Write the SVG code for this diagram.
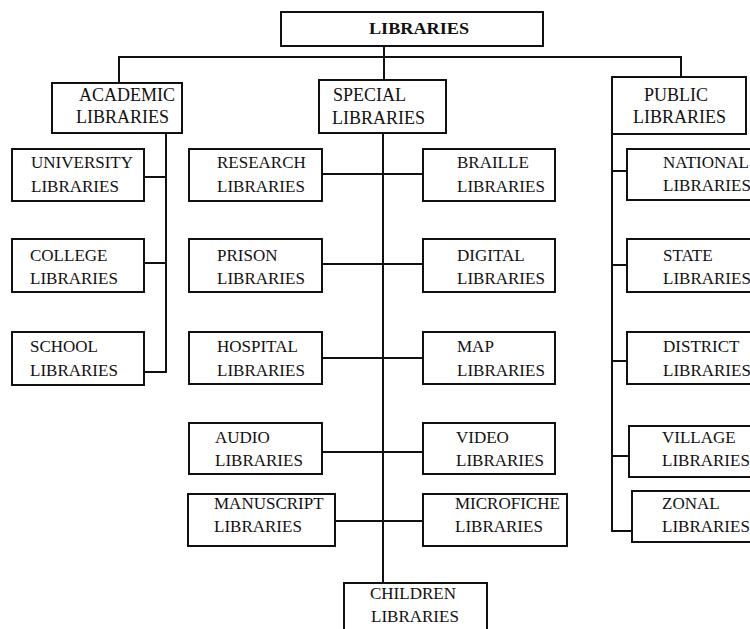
<svg xmlns="http://www.w3.org/2000/svg" width="750" height="629" viewBox="0 0 750 629">
<style>
.box{fill:#fff;stroke:#111;stroke-width:2}
.ln{fill:none;stroke:#111;stroke-width:2}
text{font-family:"Liberation Serif","Times New Roman",serif;font-size:17px;fill:#111}
.big{font-size:18px}
.title{font-weight:bold;font-size:16px}
</style>
<rect width="750" height="629" fill="#fff"/>
<g id="connectors">
<path class="ln" d="M119,83 V57 H681 V77"/>
<path class="ln" d="M384,46 V80"/>
<path class="ln" d="M383,133 V583"/>
<path class="ln" d="M166,133 V372 H144 M144,177 H166 M144,263 H166"/>
<path class="ln" d="M322,174 H423 M322,264 H423 M322,358 H423 M322,452 H423 M335,521 H423"/>
<path class="ln" d="M612,134 V531 H632 M612,171 H627 M612,265 H627 M612,361 H627 M612,456 H629"/>
</g>
<g id="libraries"><rect class="box" x="281" y="12" width="262" height="34"/><text class="title" x="369" y="34" textLength="100" lengthAdjust="spacingAndGlyphs">LIBRARIES</text></g>
<g id="academic"><rect class="box" x="52" y="83" width="130" height="50"/><text class="big" x="79" y="101">ACADEMIC</text><text class="big" x="76" y="123">LIBRARIES</text></g>
<g id="special"><rect class="box" x="319" y="80" width="127" height="53"/><text class="big" x="333" y="101">SPECIAL</text><text class="big" x="332" y="124">LIBRARIES</text></g>
<g id="public"><rect class="box" x="612" y="77" width="134" height="57"/><text class="big" x="644" y="101">PUBLIC</text><text class="big" x="633" y="123">LIBRARIES</text></g>
<g id="university"><rect class="box" x="12" y="149" width="132" height="52"/><text x="31" y="168">UNIVERSITY</text><text x="31" y="192">LIBRARIES</text></g>
<g id="college"><rect class="box" x="12" y="239" width="132" height="53"/><text x="30" y="261">COLLEGE</text><text x="30" y="284">LIBRARIES</text></g>
<g id="school"><rect class="box" x="12" y="332" width="132" height="53"/><text x="30" y="352">SCHOOL</text><text x="30" y="376">LIBRARIES</text></g>
<g id="research"><rect class="box" x="189" y="149" width="133" height="52"/><text x="217" y="168">RESEARCH</text><text x="217" y="192">LIBRARIES</text></g>
<g id="prison"><rect class="box" x="189" y="239" width="133" height="53"/><text x="217" y="261">PRISON</text><text x="217" y="284">LIBRARIES</text></g>
<g id="hospital"><rect class="box" x="189" y="332" width="133" height="52"/><text x="217" y="352">HOSPITAL</text><text x="217" y="376">LIBRARIES</text></g>
<g id="audio"><rect class="box" x="189" y="423" width="133" height="51"/><text x="215" y="443">AUDIO</text><text x="215" y="466">LIBRARIES</text></g>
<g id="manuscript"><rect class="box" x="188" y="494" width="147" height="52"/><text x="214" y="509">MANUSCRIPT</text><text x="214" y="532">LIBRARIES</text></g>
<g id="braille"><rect class="box" x="423" y="149" width="132" height="52"/><text x="457" y="168">BRAILLE</text><text x="457" y="192">LIBRARIES</text></g>
<g id="digital"><rect class="box" x="423" y="239" width="132" height="53"/><text x="457" y="261">DIGITAL</text><text x="457" y="284">LIBRARIES</text></g>
<g id="map"><rect class="box" x="423" y="332" width="132" height="52"/><text x="457" y="352">MAP</text><text x="457" y="376">LIBRARIES</text></g>
<g id="video"><rect class="box" x="423" y="423" width="132" height="51"/><text x="456" y="443">VIDEO</text><text x="456" y="466">LIBRARIES</text></g>
<g id="microfiche"><rect class="box" x="423" y="494" width="144" height="52"/><text x="455" y="509">MICROFICHE</text><text x="455" y="532">LIBRARIES</text></g>
<g id="children"><rect class="box" x="344" y="583" width="143" height="56"/><text x="370" y="599">CHILDREN</text><text x="371" y="622">LIBRARIES</text></g>
<g id="national"><rect class="box" x="627" y="149" width="133" height="51"/><text x="663" y="168">NATIONAL</text><text x="663" y="191">LIBRARIES</text></g>
<g id="state"><rect class="box" x="627" y="239" width="133" height="53"/><text x="663" y="261">STATE</text><text x="663" y="284">LIBRARIES</text></g>
<g id="district"><rect class="box" x="627" y="332" width="133" height="52"/><text x="663" y="352">DISTRICT</text><text x="663" y="376">LIBRARIES</text></g>
<g id="village"><rect class="box" x="629" y="426" width="131" height="51"/><text x="662" y="443">VILLAGE</text><text x="662" y="466">LIBRARIES</text></g>
<g id="zonal"><rect class="box" x="632" y="491" width="128" height="51"/><text x="662" y="509">ZONAL</text><text x="662" y="532">LIBRARIES</text></g>
</svg>
